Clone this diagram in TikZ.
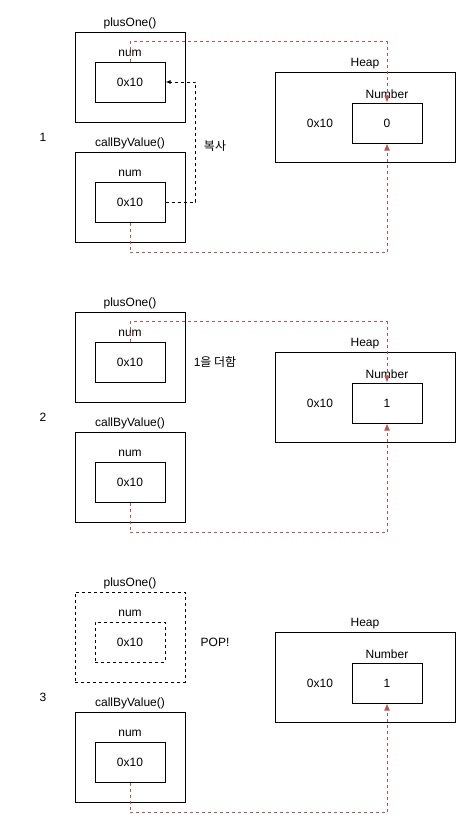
\documentclass[tikz,border=0pt]{standalone}
\usepackage{fontspec}
\setmainfont{Liberation Sans}
\newfontfamily\krfont{Noto Sans CJK KR}
\usetikzlibrary{arrows.meta,positioning}
\definecolor{heapred}{HTML}{B85450}

\begin{document}
\begin{tikzpicture}[x=1pt,y=-1pt,line width=1pt,>={Latex[length=7pt,width=6pt]},
    font=\fontsize{12}{14}\selectfont,
    frame/.style={draw,inner sep=0pt,minimum width=110pt,minimum height=90pt},
    cell/.style={draw,inner sep=0pt,minimum width=70pt,minimum height=40pt},
    heapbox/.style={draw,inner sep=0pt,minimum width=180pt,minimum height=90pt},
    lbl/.style={inner sep=0pt},
    ref/.style={heapred,dash pattern=on 3pt off 3pt,->},
    copyline/.style={black,dash pattern=on 3pt off 3pt,-{Latex[length=5pt,width=4pt]}}]
    \useasboundingbox (0,0) rectangle (471,836);

    % 1: call plusOne(num)
    \begin{scope}
        \node[frame] (po1) at (130,77) {};
        \node[lbl,above=2pt of po1] {plusOne()};
        \node[cell] (pn1) at (130,82) {0x10};
        \node[lbl,above=4pt of pn1] {num};

        \node[frame] (co1) at (130,197) {};
        \node[lbl,above=2pt of co1] {callByValue()};
        \node[cell] (cn1) at (130,202) {0x10};
        \node[lbl,above=4pt of cn1] {num};

        \node[heapbox] (hp1) at (365,117) {};
        \node[lbl,above=2pt of hp1] {Heap};
        \node[cell] (nb1) at (387,123) {0};
        \node[lbl,above=3pt of nb1] {Number};
        \node (ad1) at (320,123) {0x10};

        \node (st1) at (43,137) {1};
        \node (cp1) at (215,146) {\krfont 복사};

        \draw[copyline] (cn1.east) -- ++(30,0) |- (pn1.east);
        \draw[ref] (pn1.north) -- ++(0,-20) -| (nb1.north);
        \draw[ref] (cn1.south) -- ++(0,30) -| (nb1.south);
    \end{scope}

    % 2: num + 1
    \begin{scope}[yshift=-280pt]
        \node[frame] (po2) at (130,77) {};
        \node[lbl,above=2pt of po2] {plusOne()};
        \node[cell] (pn2) at (130,82) {0x10};
        \node[lbl,above=4pt of pn2] {num};

        \node[frame] (co2) at (130,197) {};
        \node[lbl,above=2pt of co2] {callByValue()};
        \node[cell] (cn2) at (130,202) {0x10};
        \node[lbl,above=4pt of cn2] {num};

        \node[heapbox] (hp2) at (365,117) {};
        \node[lbl,above=2pt of hp2] {Heap};
        \node[cell] (nb2) at (387,123) {1};
        \node[lbl,above=3pt of nb2] {Number};
        \node (ad2) at (320,123) {0x10};

        \node (st2) at (43,137) {2};
        \node (pl2) at (215,82) {1{\krfont 을 더함}};

        \draw[ref] (pn2.north) -- ++(0,-20) -| (nb2.north);
        \draw[ref] (cn2.south) -- ++(0,30) -| (nb2.south);
    \end{scope}

    % 3: plusOne() popped
    \begin{scope}[yshift=-560pt]
        \node[frame,dash pattern=on 3pt off 3pt] (po3) at (130,77) {};
        \node[lbl,above=2pt of po3] {plusOne()};
        \node[cell,dash pattern=on 3pt off 3pt] (pn3) at (130,82) {0x10};
        \node[lbl,above=4pt of pn3] {num};

        \node[frame] (co3) at (130,197) {};
        \node[lbl,above=2pt of co3] {callByValue()};
        \node[cell] (cn3) at (130,202) {0x10};
        \node[lbl,above=4pt of cn3] {num};

        \node[heapbox] (hp3) at (365,117) {};
        \node[lbl,above=2pt of hp3] {Heap};
        \node[cell] (nb3) at (387,123) {1};
        \node[lbl,above=3pt of nb3] {Number};
        \node (ad3) at (320,123) {0x10};

        \node (st3) at (43,137) {3};
        \node (pp3) at (215,82) {POP!};

        \draw[ref] (cn3.south) -- ++(0,30) -| (nb3.south);
    \end{scope}
\end{tikzpicture}
\end{document}
